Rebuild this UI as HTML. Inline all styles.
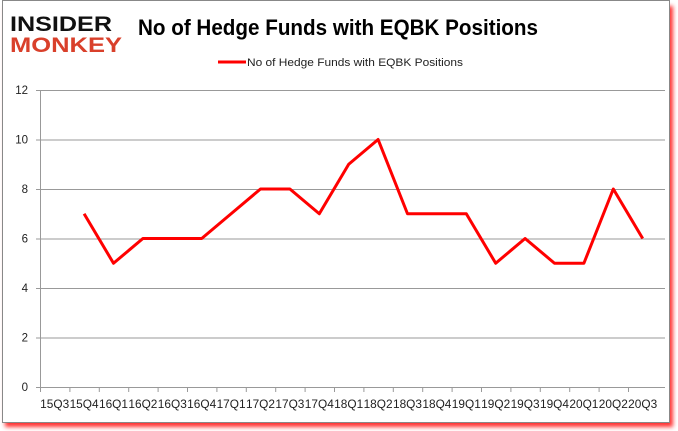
<!DOCTYPE html>
<html><head><meta charset="utf-8"><style>
body{margin:0;background:#fff;}
svg{display:block;font-family:"Liberation Sans",sans-serif;}
</style></head><body>
<svg width="678" height="431" viewBox="0 0 678 431">
<defs><filter id="sh" x="-5%" y="-5%" width="110%" height="115%"><feGaussianBlur stdDeviation="2"/></filter></defs>
<rect x="5" y="6" width="668" height="421" fill="#f00" opacity="0.8" filter="url(#sh)"/>
<rect x="2.5" y="0.5" width="667" height="422" fill="#fff" stroke="#888"/>
<g font-family="'Liberation Sans',sans-serif" font-weight="bold">
<text x="10" y="31" font-size="21" fill="#111" textLength="102" lengthAdjust="spacingAndGlyphs">INSIDER</text>
<text x="10" y="52" font-size="21" fill="#d9402b" textLength="112" lengthAdjust="spacingAndGlyphs">MONKEY</text>
</g>
<text x="338" y="35" font-size="22" font-weight="bold" fill="#000" text-anchor="middle" textLength="400" lengthAdjust="spacingAndGlyphs">No of Hedge Funds with EQBK Positions</text>
<line x1="218" y1="62" x2="246" y2="62" stroke="#f00" stroke-width="3"/>
<text x="247" y="66" font-size="11" fill="#222" textLength="216" lengthAdjust="spacingAndGlyphs">No of Hedge Funds with EQBK Positions</text>
<g id="grid"></g><g id="axes"></g><g id="series"></g>
</svg>
<script>
const categories=["15Q3","15Q4","16Q1","16Q2","16Q3","16Q4","17Q1","17Q2","17Q3","17Q4","18Q1","18Q2","18Q3","18Q4","19Q1","19Q2","19Q3","19Q4","20Q1","20Q2","20Q3"];
const values=[null,7,5,6,6,6,7,8,8,7,9,10,7,7,7,5,6,5,5,8,6];
const yTicks=[0,2,4,6,8,10,12];
const NS="http://www.w3.org/2000/svg";
const L=40,R=665,T=90,B=387,yMax=12;
const bw=29.4;
const x=i=>L+bw*(i+0.5);
const y=v=>B-(v/yMax)*(B-T);
function mk(tag,attrs,parent){const e=document.createElementNS(NS,tag);for(const k in attrs)e.setAttribute(k,attrs[k]);document.getElementById(parent).appendChild(e);return e;}
yTicks.forEach(t=>{
 const g=mk('line',{x1:L-4,x2:R,y1:y(t)+0.5,y2:y(t)+0.5,stroke:'#999','stroke-width':1},'grid');
 
 
 const tx=mk('text',{x:28,y:y(t)+4,'font-size':11.5,fill:'#222','text-anchor':'end'},'axes');
 tx.textContent=t;
 
 
});
const ya=mk('line',{x1:L+0.5,x2:L+0.5,y1:T,y2:B,stroke:'#999'},'axes');


categories.forEach((c,i)=>{
 const tk=mk('line',{x1:L+bw*i+0.5,x2:L+bw*i+0.5,y1:B,y2:B+5,stroke:'#999'},'axes');
 
 
 const tx=mk('text',{x:x(i),y:B+21,'font-size':11.5,fill:'#222','text-anchor':'middle',textLength:29,lengthAdjust:'spacingAndGlyphs'},'axes');
 tx.textContent=c;
 
 
});
let d='';values.forEach((v,i)=>{if(v==null)return;d+=(d?'L':'M')+x(i)+','+y(v);});
const p=mk('path',{d:d,fill:'none',stroke:'#f00','stroke-width':3,'stroke-linejoin':'round'},'series');


</script>
</body></html>
